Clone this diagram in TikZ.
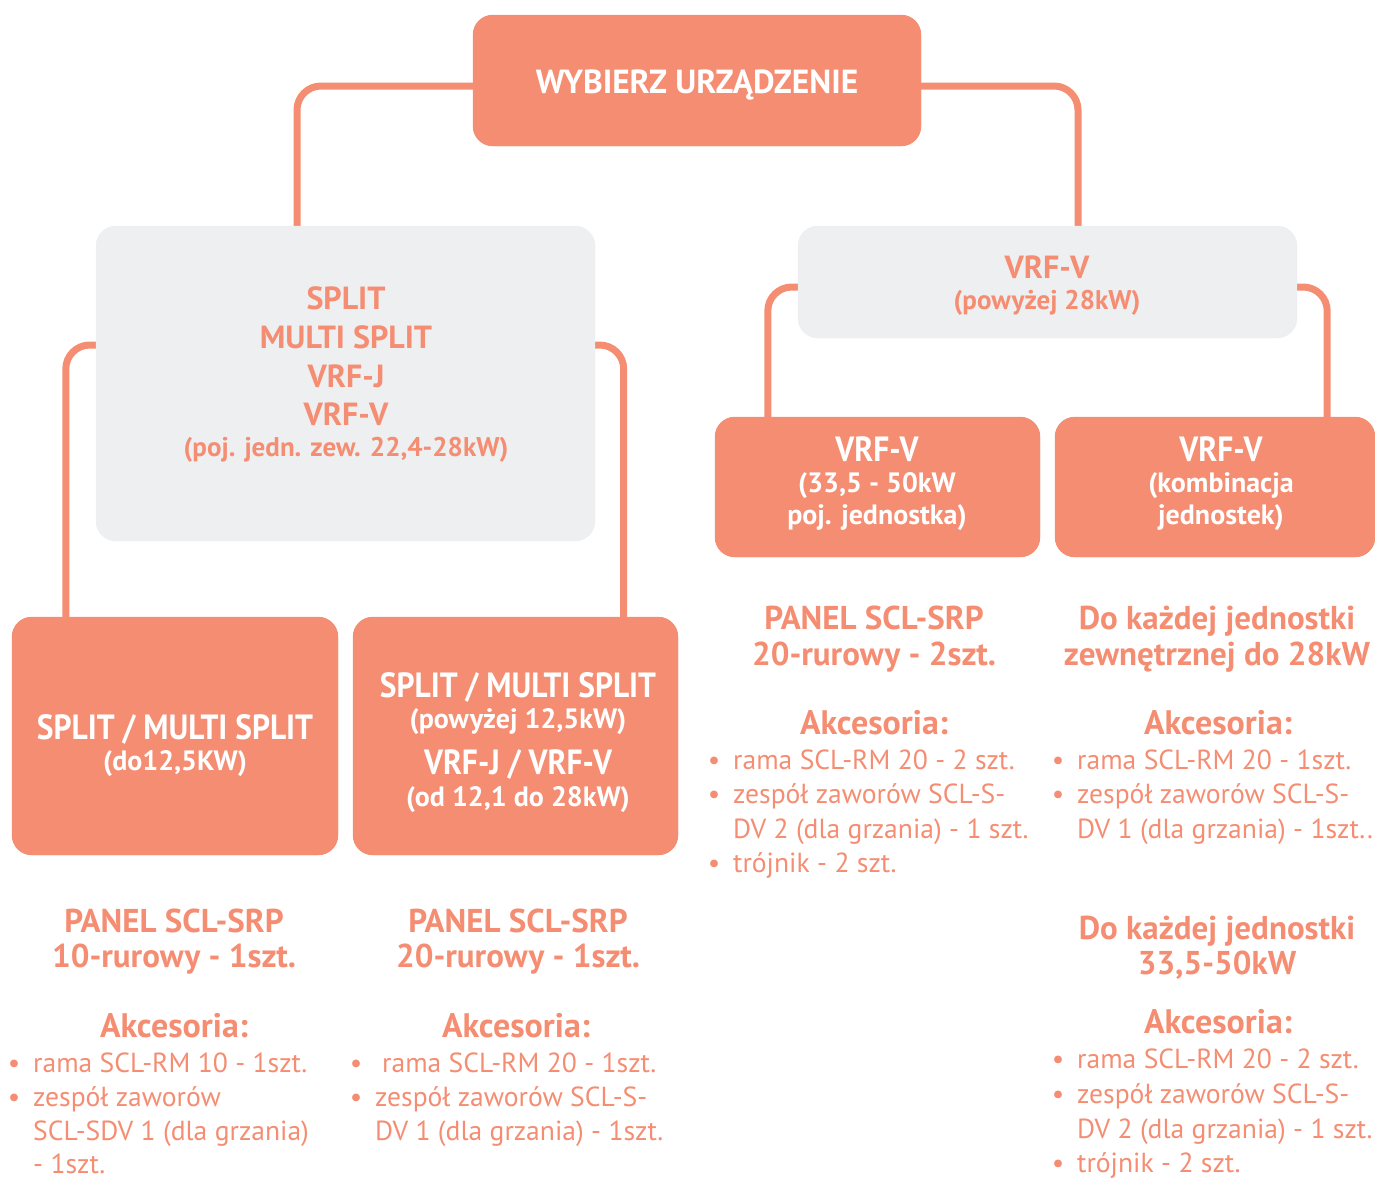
\documentclass[tikz,border=0pt]{standalone}
\usepackage{fontspec}
\setmainfont{PT Sans}
\newfontfamily\condfont[FakeStretch=0.9]{PT Sans}
\usetikzlibrary{calc}
\definecolor{salm}{RGB}{244,141,114}
\definecolor{lgray}{RGB}{238,239,241}
\begin{document}
\begin{tikzpicture}[x=1pt,y=-1pt,
  sbox/.style={rectangle,fill=salm,draw=none,rounded corners=20pt,inner sep=0pt},
  gbox/.style={rectangle,fill=lgray,draw=none,rounded corners=20pt,inner sep=0pt},
  conn/.style={draw=salm,line width=7pt,rounded corners=24pt},
  toptxt/.style={inner sep=0pt,text=white,font=\bfseries\fontsize{33.4}{33.4}\selectfont},
  boxbig/.style={inner sep=0pt,text=white,font=\condfont\bfseries\fontsize{35}{35}\selectfont},
  boxsmall/.style={inner sep=0pt,text=white,font=\bfseries\fontsize{28}{28}\selectfont},
  graybig/.style={inner sep=0pt,text=salm,font=\bfseries\fontsize{32}{32}\selectfont},
  graysmall/.style={inner sep=0pt,text=salm,font=\bfseries\fontsize{27}{27}\selectfont},
  headtxt/.style={inner sep=0pt,text=salm,font=\bfseries\fontsize{33}{33}\selectfont},
  akctxt/.style={inner sep=0pt,text=salm,font=\bfseries\fontsize{34}{34}\selectfont},
  bodytxt/.style={inner sep=0pt,text=salm,font=\fontsize{27.6}{27.6}\selectfont},
]
\useasboundingbox (0,0) rectangle (1375,1178);

% box shapes
\path (697,80.5) node[sbox,minimum width=448pt,minimum height=131pt] (top) {};
\path (345.5,383.5) node[gbox,minimum width=499pt,minimum height=315pt] (grayL) {};
\path (1047.5,282) node[gbox,minimum width=499pt,minimum height=112pt] (grayR) {};
\path (175,736) node[sbox,minimum width=326pt,minimum height=238pt] (box1) {};
\path (515.5,736) node[sbox,minimum width=325pt,minimum height=238pt] (box2) {};
\path (877.5,487) node[sbox,minimum width=325pt,minimum height=140pt] (box3) {};
\path (1215,487) node[sbox,minimum width=320pt,minimum height=140pt] (box4) {};

% connectors
\draw[conn] ([yshift=-5.5pt]top.west) -| ([xshift=-48.5pt]grayL.north);
\draw[conn] ([yshift=-5.5pt]top.east) -| ([xshift=30.5pt]grayR.north);
\draw[conn] ([yshift=38.5pt]grayL.west) -| ([xshift=54pt]box1.north west);
\draw[conn] ([yshift=38.5pt]grayL.east) -| ([xshift=-54.5pt]box2.north east);
\draw[conn] ([yshift=-5pt]grayR.west) -| ([xshift=53pt]box3.north west);
\draw[conn] ([yshift=-5pt]grayR.east) -| ([xshift=-48pt]box4.north east);

% boxes painted over the connector ends
\fill[salm,rounded corners=20pt] (top.south west) rectangle (top.north east);
\fill[lgray,rounded corners=20pt] (grayL.south west) rectangle (grayL.north east);
\fill[lgray,rounded corners=20pt] (grayR.south west) rectangle (grayR.north east);
\fill[salm,rounded corners=20pt] (box1.south west) rectangle (box1.north east);
\fill[salm,rounded corners=20pt] (box2.south west) rectangle (box2.north east);
\fill[salm,rounded corners=20pt] (box3.south west) rectangle (box3.north east);
\fill[salm,rounded corners=20pt] (box4.south west) rectangle (box4.north east);

% box texts
\node[toptxt,anchor=base] (t0) at (697,93.5) {WYBIERZ URZĄDZENIE};

\node[graybig,anchor=base] (gl1) at (346,309) {SPLIT};
\node[graybig,anchor=base] (gl2) at (346,348) {MULTI SPLIT};
\node[graybig,anchor=base] (gl3) at (346,387) {VRF-J};
\node[graybig,anchor=base] (gl4) at (346,425) {VRF-V};
\node[graysmall,anchor=base] (gl5) at (346,456) {(poj. jedn. zew. 22,4-28kW)};

\node[graybig,anchor=base] (gr1) at (1047,278) {VRF-V};
\node[graysmall,anchor=base] (gr2) at (1047,309) {(powyżej 28kW)};

\node[boxbig,anchor=base] (b1a) at (175,739) {SPLIT / MULTI SPLIT};
\node[boxsmall,anchor=base] (b1b) at (175,770) {(do12,5KW)};

\node[boxbig,anchor=base] (b2a) at (518,697) {SPLIT / MULTI SPLIT};
\node[boxsmall,anchor=base] (b2b) at (518,728) {(powyżej 12,5kW)};
\node[boxbig,anchor=base] (b2c) at (518,774) {VRF-J / VRF-V};
\node[boxsmall,anchor=base] (b2d) at (518,806) {(od 12,1 do 28kW)};

\node[boxbig,anchor=base] (b3a) at (877,461) {VRF-V};
\node[boxsmall,anchor=base] (b3b) at (877,492) {(33,5 - 50kW};
\node[boxsmall,anchor=base] (b3c) at (877,524) {poj. jednostka)};

\node[boxbig,anchor=base] (b4a) at (1221,461) {VRF-V};
\node[boxsmall,anchor=base] (b4b) at (1221,492) {(kombinacja};
\node[boxsmall,anchor=base] (b4c) at (1221,524) {jednostek)};

% column 1
\node[headtxt,anchor=base] (c1h1) at (174,932) {PANEL SCL-SRP};
\node[headtxt,anchor=base] (c1h2) at (174,967) {10-rurowy - 1szt.};
\node[akctxt,anchor=base] (c1a) at (174,1037) {Akcesoria:};
\node[bodytxt,anchor=base] (c1d1) at (14,1072) {•};
\node[bodytxt,anchor=base west] (c1l1) at (33,1072) {rama SCL-RM 10 - 1szt.};
\node[bodytxt,anchor=base] (c1d2) at (14,1106) {•};
\node[bodytxt,anchor=base west] (c1l2) at (33,1106) {zespół zaworów};
\node[bodytxt,anchor=base west] (c1l3) at (33,1140) {SCL-SDV 1 (dla grzania)};
\node[bodytxt,anchor=base west] (c1l4) at (33,1173) {- 1szt.};

% column 2
\node[headtxt,anchor=base] (c2h1) at (518,932) {PANEL SCL-SRP};
\node[headtxt,anchor=base] (c2h2) at (518,967) {20-rurowy - 1szt.};
\node[akctxt,anchor=base] (c2a) at (516,1037) {Akcesoria:};
\node[bodytxt,anchor=base] (c2d1) at (356,1072) {•};
\node[bodytxt,anchor=base west] (c2l1) at (382,1072) {rama SCL-RM 20 - 1szt.};
\node[bodytxt,anchor=base] (c2d2) at (356,1106) {•};
\node[bodytxt,anchor=base west] (c2l2) at (375,1106) {zespół zaworów SCL-S-};
\node[bodytxt,anchor=base west] (c2l3) at (375,1140) {DV 1 (dla grzania) - 1szt.};

% column 3
\node[headtxt,anchor=base] (c3h1) at (874,629) {PANEL SCL-SRP};
\node[headtxt,anchor=base] (c3h2) at (874,665) {20-rurowy - 2szt.};
\node[akctxt,anchor=base] (c3a) at (874,734) {Akcesoria:};
\node[bodytxt,anchor=base] (c3d1) at (714,769) {•};
\node[bodytxt,anchor=base west] (c3l1) at (733,769) {rama SCL-RM 20 - 2 szt.};
\node[bodytxt,anchor=base] (c3d2) at (714,803) {•};
\node[bodytxt,anchor=base west] (c3l2) at (733,803) {zespół zaworów SCL-S-};
\node[bodytxt,anchor=base west] (c3l3) at (733,838) {DV 2 (dla grzania) - 1 szt.};
\node[bodytxt,anchor=base] (c3d4) at (714,872) {•};
\node[bodytxt,anchor=base west] (c3l4) at (733,872) {trójnik - 2 szt.};

% column 4 upper
\node[headtxt,anchor=base] (c4h1) at (1217,629) {Do każdej jednostki};
\node[headtxt,anchor=base] (c4h2) at (1217,665) {zewnętrznej do 28kW};
\node[akctxt,anchor=base] (c4a) at (1218,734) {Akcesoria:};
\node[bodytxt,anchor=base] (c4d1) at (1058,769) {•};
\node[bodytxt,anchor=base west] (c4l1) at (1077,769) {rama SCL-RM 20 - 1szt.};
\node[bodytxt,anchor=base] (c4d2) at (1058,803) {•};
\node[bodytxt,anchor=base west] (c4l2) at (1077,803) {zespół zaworów SCL-S-};
\node[bodytxt,anchor=base west] (c4l3) at (1077,838) {DV 1 (dla grzania) - 1szt..};

% column 4 lower
\node[headtxt,anchor=base] (c5h1) at (1217,939) {Do każdej jednostki};
\node[headtxt,anchor=base] (c5h2) at (1217,974) {33,5-50kW};
\node[akctxt,anchor=base] (c5a) at (1218,1033) {Akcesoria:};
\node[bodytxt,anchor=base] (c5d1) at (1058,1068) {•};
\node[bodytxt,anchor=base west] (c5l1) at (1077,1068) {rama SCL-RM 20 - 2 szt.};
\node[bodytxt,anchor=base] (c5d2) at (1058,1103) {•};
\node[bodytxt,anchor=base west] (c5l2) at (1077,1103) {zespół zaworów SCL-S-};
\node[bodytxt,anchor=base west] (c5l3) at (1077,1138) {DV 2 (dla grzania) - 1 szt.};
\node[bodytxt,anchor=base] (c5d4) at (1058,1172) {•};
\node[bodytxt,anchor=base west] (c5l4) at (1077,1172) {trójnik - 2 szt.};
\end{tikzpicture}
\end{document}
